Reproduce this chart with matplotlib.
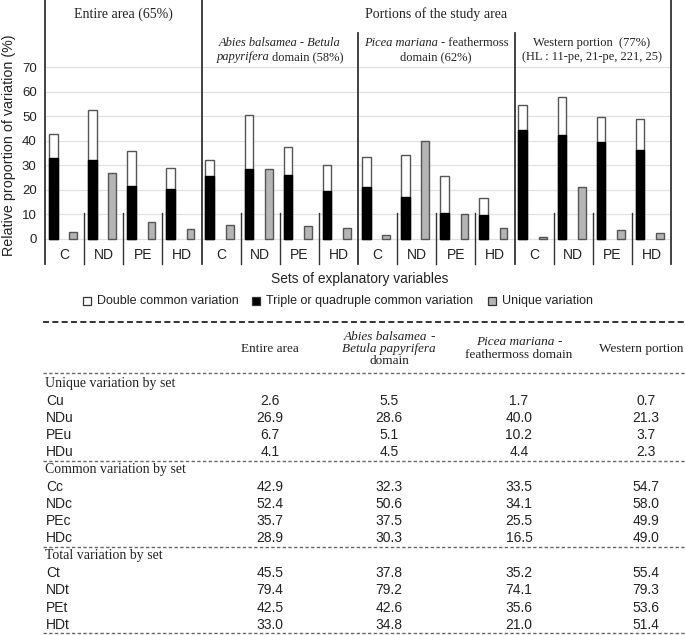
import matplotlib
matplotlib.use("Agg")
import matplotlib.pyplot as plt
from matplotlib.lines import Line2D
from matplotlib.patches import Rectangle

groups = ["Entire area", "Abies balsamea - Betula papyrifera domain",
          "Picea mariana - feathermoss domain", "Western portion"]
sets = ["C", "ND", "PE", "HD"]

# triple or quadruple common variation (black part)
triple_vals = [[33.1, 32.2, 21.5, 20.4],
               [25.6, 28.5, 26.0, 19.6],
               [21.3, 17.2, 10.4, 9.7],
               [44.4, 42.5, 39.4, 36.2]]
unique_vals = [[2.6, 26.9, 6.7, 4.1],
               [5.5, 28.6, 5.1, 4.5],
               [1.7, 40.0, 10.2, 4.4],
               [0.7, 21.3, 3.7, 2.3]]
common_vals = [[42.9, 52.4, 35.7, 28.9],
               [32.3, 50.6, 37.5, 30.3],
               [33.5, 34.1, 25.5, 16.5],
               [54.7, 58.0, 49.9, 49.0]]
total_vals = [[45.5, 79.4, 42.5, 33.0],
              [37.8, 79.2, 42.6, 34.8],
              [35.2, 74.1, 35.6, 21.0],
              [55.4, 79.3, 53.6, 51.4]]

SERIF = "Liberation Serif"
SANS = "Liberation Sans"
TXT = "#222222"

W, H = 685, 635
fig = plt.figure(figsize=(W / 100, H / 100), dpi=100)


def fx(px):
    return px / W


def fy(py):
    return 1 - py / H


ZERO_PX = 238.7
PX_UNIT = 2.447


def dy(py):
    return (ZERO_PX - py) / PX_UNIT


# ---------------- chart ----------------
ax = fig.add_axes([fx(45), fy(264), (671 - 45) / W, 264 / H])
ax.set_xlim(0, 16)
ax.set_ylim(dy(264), dy(0))
for s in ax.spines.values():
    s.set_visible(False)
ax.set_xticks([])
ax.set_yticks(range(0, 80, 10))
ax.tick_params(axis="y", length=0, pad=6)
for lab in ax.get_yticklabels():
    lab.set_fontfamily(SANS)
    lab.set_fontsize(9.5)
    lab.set_color(TXT)

for v in range(0, 80, 10):
    ax.axhline(v, color="#e2e2e2", lw=0.9, zorder=0)

for g in range(4):
    xs = [g * 4 + k for k in range(4)]
    ax.bar([x + 0.21 for x in xs], common_vals[g], width=0.22, color="white",
           edgecolor="#555555", linewidth=1, zorder=2)
    ax.bar([x + 0.21 for x in xs], triple_vals[g], width=0.22, color="black",
           edgecolor="black", linewidth=1, zorder=3)
    ax.bar([x + 0.72 for x in xs], unique_vals[g], width=0.2, color="#b5b5b5",
           edgecolor="#555555", linewidth=1, zorder=2)
    for k, x in enumerate(xs):
        ax.text(x + 0.5, dy(255), sets[k], ha="center", va="center",
                fontsize=10, family=SANS, color=TXT)
        if k > 0:
            ax.plot([x, x], [dy(213), dy(264)], color="#333333", lw=1,
                    clip_on=False, zorder=4)

for x in [0, 4, 16]:
    ax.plot([x, x], [dy(0), dy(264)], color="#333333", lw=1.3, clip_on=False)
for x in [8, 12]:
    ax.plot([x, x], [dy(33), dy(264)], color="#333333", lw=1.3, clip_on=False)

fig.text(fx(9), fy(145), "Relative proportion of variation (%)", rotation=90,
         ha="center", va="center", fontsize=10.3, family=SANS, color=TXT)
fig.text(fx(360), fy(279), "Sets of explanatory variables", ha="center",
         va="center", fontsize=9.9, family=SANS, color=TXT)


def rich_line(px, py, parts, size, family=SERIF):
    r = fig.canvas.get_renderer()
    objs = [fig.text(0, fy(py), s, fontsize=size, family=family, fontstyle=st,
                     ha="left", va="center", color=TXT) for s, st in parts]
    gap = size * 100 / 72 * 0.25
    widths = [o.get_window_extent(r).width for o in objs]
    x = px - (sum(widths) + gap * (len(objs) - 1)) / 2
    for o, w in zip(objs, widths):
        o.set_x(fx(x))
        x += w + gap


rich_line(123, 14, [("Entire area (65%)", "normal")], 10)
rich_line(436, 14, [("Portions of the study area", "normal")], 10)
SH = 9
rich_line(280, 43, [("Abies balsamea - Betula", "italic")], SH)
rich_line(280, 57, [("papyrifera", "italic"), ("domain (58%)", "normal")], SH)
rich_line(436, 43, [("Picea mariana", "italic"), ("- feathermoss", "normal")], SH)
rich_line(436, 57, [("domain (62%)", "normal")], SH)
rich_line(592, 43, [("Western portion  (77%)", "normal")], SH)
rich_line(592, 57, [("(HL : 11-pe, 21-pe, 221, 25)", "normal")], SH)

# legend
leg_items = [(83, "white", "Double common variation"),
             (252, "black", "Triple or quadruple common variation"),
             (488, "#b5b5b5", "Unique variation")]
for px, col, lab in leg_items:
    fig.patches.append(Rectangle((fx(px), fy(305)), 8 / W, 8 / H, facecolor=col,
                                 edgecolor="#333333", lw=0.9,
                                 transform=fig.transFigure, figure=fig))
    fig.text(fx(px + 14), fy(301), lab, ha="left", va="center", fontsize=9,
             family=SANS, color=TXT)

# ---------------- table ----------------


def dashed(py, color="#666666", lw=1.0, dash=(2.4, 1.7)):
    fig.add_artist(Line2D([fx(43), fx(685)], [fy(py), fy(py)], color=color,
                          lw=lw, linestyle=(0, dash), transform=fig.transFigure))


dashed(322, color="#333333", lw=1.4, dash=(3.1, 1.7))
col_x = [270, 389, 519, 646]
TS = 9.5
rich_line(col_x[0], 349, [("Entire area", "normal")], TS)
rich_line(col_x[1], 337, [("Abies balsamea", "italic"), ("-", "normal")], TS)
rich_line(col_x[1], 349, [("Betula papyrifera", "italic")], TS)
rich_line(col_x[1], 361, [("domain", "normal")], TS)
rich_line(col_x[2], 342, [("Picea mariana", "italic"), ("-", "normal")], TS)
rich_line(col_x[2], 355, [("feathermoss domain", "normal")], TS)
rich_line(641, 349, [("Western portion", "normal")], TS)
dashed(373)

sections = [("Unique variation by set", "u", unique_vals, 383.5),
            ("Common variation by set", "c", common_vals, 469.7),
            ("Total variation by set", "t", total_vals, 556)]
for title, suf, vals, y0 in sections:
    fig.text(fx(45), fy(y0), title, ha="left", va="center", fontsize=10,
             family=SERIF, color=TXT)
    for k, s in enumerate(sets):
        yy = y0 + 17.2 * (k + 1)
        fig.text(fx(46), fy(yy), s + suf, ha="left", va="center", fontsize=10,
                 family=SANS, color=TXT)
        for g in range(4):
            fig.text(fx(col_x[g]), fy(yy), f"{vals[g][k]:.1f}", ha="center",
                     va="center", fontsize=10, family=SANS, color=TXT)
    dashed(y0 + 77.3)

fig.savefig("out.png", dpi=100)
